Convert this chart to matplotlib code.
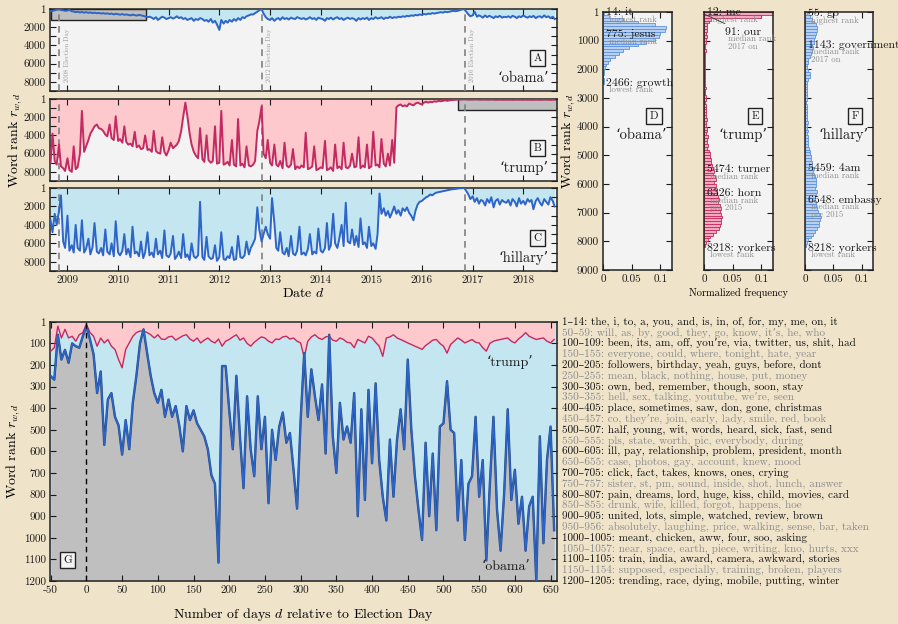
import numpy as np
import pandas as pd
import matplotlib.pyplot as plt
import matplotlib.dates as mdates
import matplotlib.patheffects as pe
from matplotlib.patches import Rectangle
from matplotlib.transforms import blended_transform_factory

plt.rcParams["font.family"] = ["cmr10", "DejaVu Serif"]
plt.rcParams["mathtext.fontset"] = "cm"
plt.rcParams["axes.formatter.use_mathtext"] = True

# ---------------------------
# COLOURS
# ---------------------------
PAPER = "#efe3c9"
PANEL = "#f3f3f3"
BLUE = "#2d65c8"
CRIMSON = "#c42a62"
SKY = "#c3e6f1"
PINK = "#fdc9cc"
BOX = "#bfbfbf"
INK = "#1a1a1a"
GREY_TXT = "#8c8c8c"

# ---------------------------
# DATA: daily ranks, read off as semi-monthly values (Sep 2008 - Aug 2018)
# ---------------------------
SERIES_START = "2008-09-01"
election_days = ["2008-11-04", "2012-11-06", "2016-11-08"]

obama_rank = [
    250, 200, 150, 80, 20, 120, 150, 200, 180, 90, 250, 280, 350, 300, 380, 330, 400, 350, 420, 380, 450, 400, 470, 430,
    500, 450, 520, 480, 550, 500, 600, 520, 580, 620, 560, 640, 600, 650, 700, 620, 680, 720, 650, 700, 750, 820, 900, 850,
    950, 1100, 900, 1200, 1000, 850, 950, 1100, 1000, 900, 1050, 950, 800, 1000, 900, 1100, 1000, 1200, 1100, 1000, 1300, 1100, 1200, 1000,
    1100, 1300, 1200, 1400, 1100, 1500, 1300, 1700, 2300, 1200, 1600, 1300, 1500, 1200, 1400, 1100, 1300, 1000, 1200, 900, 1000, 800, 700, 600,
    600, 450, 300, 150, 20, 500, 900, 1100, 1200, 1000, 1300, 1100, 1000, 1200, 900, 1100, 1000, 1150, 950, 1050, 1100, 900, 1000, 1100,
    1000, 1150, 1050, 900, 1100, 1000, 1200, 950, 1050, 1100, 1300, 1000, 1100, 950, 1150, 1000, 900, 1100, 1000, 1200, 1050, 950, 1100, 1000,
    1100, 1300, 1000, 1150, 1000, 1100, 950, 1200, 1000, 1100, 900, 1050, 1000, 900, 1100, 950, 1000, 850, 1000, 900, 950, 850, 900, 800,
    850, 750, 800, 700, 750, 650, 700, 600, 650, 550, 600, 500, 550, 450, 500, 450, 400, 350, 400, 300, 350, 300, 250, 200,
    250, 200, 120, 60, 20, 300, 600, 800, 700, 300, 850, 700, 800, 950, 700, 900, 750, 850, 1000, 800, 900, 750, 950, 850,
    900, 800, 950, 750, 850, 1000, 800, 900, 700, 850, 950, 800, 900, 750, 1000, 850, 800, 950, 700, 900, 800, 1000, 850, 1100,
]

trump_rank = [
    7000, 3800, 6800, 7200, 5000, 7400, 7600, 7900, 6500, 7800, 8000, 5200, 7700, 7500, 6000, 1300, 5800, 5200, 4500, 3800, 3400, 3000, 2800, 3200,
    3300, 3500, 3900, 4100, 2800, 4300, 4500, 1900, 4600, 4400, 4800, 3000, 4700, 5000, 4900, 5200, 3600, 5300, 5100, 5500, 5400, 4000, 5600, 5500,
    5800, 3500, 5700, 5900, 6000, 4200, 5800, 6200, 5600, 4800, 5400, 5200, 5000, 4600, 3500, 2000, 400, 1800, 3800, 5000, 5800, 6200, 6500, 3200,
    6600, 6900, 4000, 6700, 7000, 6800, 3000, 7100, 7000, 1300, 7200, 7100, 6900, 7300, 4500, 7200, 7400, 2200, 7300, 7100, 7500, 5200, 7300, 7400,
    7200, 6800, 3500, 2500, 800, 6000, 6500, 4500, 7000, 7300, 5000, 7200, 7400, 6800, 7600, 4800, 7300, 7500, 7200, 5500, 7700, 7400, 7600, 7300,
    7500, 3700, 7700, 7600, 7400, 5200, 7800, 7700, 7500, 7600, 4600, 7800, 7700, 7500, 7900, 5000, 7600, 7400, 7700, 4800, 7500, 7600, 7300, 6000,
    7500, 7400, 4200, 7600, 7300, 7500, 5000, 7600, 7400, 3600, 7300, 7200, 7500, 4400, 7100, 7400, 6000, 7300, 4500, 7000, 900, 700, 600, 800,
    700, 800, 500, 600, 700, 500, 400, 500, 600, 400, 300, 400, 300, 350, 250, 300, 200, 250, 200, 150, 200, 150, 120, 100,
    90, 60, 40, 20, 10, 40, 60, 50, 60, 30, 50, 60, 70, 50, 60, 80, 70, 50, 60, 90, 70, 60, 80, 70,
    70, 80, 60, 90, 70, 60, 80, 70, 90, 60, 80, 70, 90, 80, 60, 70, 90, 80, 70, 60, 80, 90, 70, 80,
]

hillary_rank = [
    3500, 4800, 2800, 4000, 2500, 800, 5800, 6500, 3000, 6800, 6200, 7000, 4000, 6500, 6800, 3500, 7000, 6600, 5500, 7200, 6400, 3800, 6900, 7100,
    6500, 7300, 4500, 6900, 7200, 6000, 7400, 3600, 7000, 7300, 6800, 5000, 7200, 6600, 7500, 4200, 7100, 6900, 7400, 5800, 7600, 7000, 4800, 7300,
    7000, 7500, 5500, 7200, 6800, 7600, 4600, 7300, 7500, 7100, 5200, 7700, 7400, 6900, 7600, 5000, 7500, 7200, 7800, 6000, 7400, 7600, 7300, 1500,
    7500, 7800, 5300, 7400, 7700, 7600, 6200, 7900, 7500, 4800, 7700, 7800, 7400, 7600, 6400, 7800, 7700, 5200, 7500, 7600, 7300, 5800, 7200, 6500,
    6000, 5500, 2100, 4500, 5800, 5000, 4200, 5000, 5500, 1100, 3800, 6500, 6800, 4800, 7000, 7200, 6500, 7400, 5200, 7100, 7300, 6800, 4200, 7200,
    7000, 7300, 6600, 5000, 7200, 6900, 7100, 4400, 6800, 7000, 6500, 3800, 6700, 6200, 2800, 6000, 6500, 5500, 4000, 6300, 1600, 5800, 6000, 4500,
    6200, 5200, 6400, 3300, 6100, 5900, 6500, 4200, 6300, 6000, 6600, 5000, 600, 2800, 2200, 3000, 2500, 3200, 2600, 2000, 2800, 2400, 3000, 2200,
    2500, 2100, 2700, 3000, 3500, 2500, 1800, 1500, 1400, 1200, 1000, 900, 700, 800, 600, 500, 450, 400, 350, 300, 250, 200, 150, 120,
    100, 60, 30, 20, 5, 300, 700, 1200, 900, 1500, 1100, 1700, 1300, 1400, 1900, 1200, 1600, 1000, 2100, 1400, 1200, 1800, 1300, 1500,
    1600, 1300, 1900, 1200, 1500, 2000, 1100, 1700, 1400, 1800, 1200, 1500, 1300, 2300, 1400, 1100, 1600, 1900, 1200, 1500, 1800, 1000, 1400, 2000,
]

# normalized frequency of ranks, bins of 100 ranks starting at 0
hist_bins = np.arange(0, 9000, 100)
obama_freq = [
    0.002, 0.01, 0.035, 0.06, 0.09, 0.11, 0.108, 0.1, 0.098, 0.09,
    0.075, 0.06, 0.045, 0.035, 0.028, 0.02, 0.012, 0.008, 0.005, 0.003,
    0.002, 0.001, 0.0, 0.001, 0.001,
]
trump_freq = [
    0.125, 0.1, 0.012, 0.008, 0.006, 0.005, 0.006, 0.004, 0.005, 0.004,
    0.003, 0.002, 0.002, 0.003, 0.002,
    0.002, 0.001, 0.002, 0.002, 0.001, 0.002, 0.001, 0.002, 0.001, 0.002,
    0.002, 0.003, 0.002, 0.002, 0.003, 0.003, 0.002, 0.004, 0.003, 0.003,
    0.004, 0.003, 0.005, 0.004, 0.004, 0.005, 0.006, 0.004, 0.007, 0.006,
    0.005, 0.007, 0.006, 0.008, 0.010, 0.011, 0.013, 0.012, 0.014, 0.016,
    0.017, 0.015, 0.019, 0.02, 0.018, 0.021, 0.019, 0.023, 0.022, 0.025,
    0.026, 0.024, 0.027, 0.029, 0.028, 0.03, 0.031, 0.029, 0.03, 0.028,
    0.026, 0.02, 0.015, 0.01, 0.007, 0.004, 0.002,
]
hillary_freq = [
    0.004, 0.008, 0.012, 0.016, 0.02, 0.022, 0.021, 0.02, 0.017, 0.015,
    0.016, 0.013, 0.014, 0.012, 0.01, 0.008, 0.006, 0.005, 0.004, 0.004,
    0.006, 0.008, 0.009, 0.006, 0.004, 0.003, 0.004, 0.003, 0.004, 0.003,
    0.003, 0.002, 0.003, 0.004, 0.003, 0.003, 0.004, 0.003, 0.005, 0.004,
    0.004, 0.005, 0.004, 0.005, 0.006, 0.006, 0.005, 0.007, 0.008, 0.009,
    0.01, 0.011, 0.012, 0.013, 0.015, 0.014, 0.016, 0.018, 0.02, 0.019,
    0.02, 0.018, 0.022, 0.02, 0.018, 0.017, 0.019, 0.02, 0.022, 0.023,
    0.026, 0.028, 0.027, 0.025, 0.024, 0.022, 0.018, 0.014, 0.01, 0.006,
    0.003, 0.001,
]

# (rank, label, note)
obama_notes = [(14, "14: it", "highest rank"), (775, "775: jesus", "median rank"),
               (2466, "2466: growth", "lowest rank")]
trump_notes = [(12, "12: me", "highest rank"), (5474, "5474: turner", "median rank"),
               (6326, "6326: horn", "median rank\npre 2015"), (8218, "8218: yorkers", "lowest rank")]
hillary_notes = [(55, "55: go", "highest rank"), (1143, "1143: government", "median rank\n2017 on"),
                 (5459, "5459: 4am", "median rank"), (6548, "6548: embassy", "median rank\npre 2015"),
                 (8218, "8218: yorkers", "lowest rank")]

# zoom: ranks every 5 days from 50 days before each election day
obama_g = [
    252, 268, 60, 175, 130, 190, 100, 113, 120, 67,
    20, 82, 150, 330, 230, 570, 360, 330, 440, 480,
    615, 455, 590, 375, 250, 100, 35, 145, 250, 330,
    375, 315, 440, 360, 440, 390, 480, 600, 390, 455,
    410, 470, 500, 530, 590, 710, 750, 1115, 205, 205,
    410, 590, 250, 530, 770, 345, 590, 715, 345, 590,
    440, 840, 500, 640, 485, 420, 560, 515, 685, 865,
    455, 145, 440, 220, 345, 455, 290, 610, 60, 530,
    700, 375, 545, 485, 560, 330, 900, 405, 825, 315,
    655, 285, 640, 810, 920, 545, 810, 545, 405, 590,
    175, 500, 715, 870, 1010, 560, 900, 610, 965, 485,
    470, 275, 500, 515, 920, 640, 1010, 750, 715, 440,
    810, 640, 1105, 750, 440, 870, 1060, 795, 405, 825,
    685, 935, 810, 1060, 855, 810, 1200, 530, 1025, 640,
    485, 965,
]
trump_g = [
    136, 120, 20, 75, 35, 75, 67, 90, 60, 50,
    12, 50, 67, 113, 75, 98, 82, 113, 128, 175,
    213, 128, 98, 67, 50, 43, 43, 50, 60, 75,
    60, 80, 82, 70, 67, 85, 75, 65, 60, 80,
    90, 75, 98, 85, 75, 90, 98, 80, 113, 90,
    82, 70, 60, 85, 75, 100, 113, 95, 82, 70,
    75, 90, 98, 80, 82, 70, 67, 80, 75, 90,
    98, 165, 90, 70, 60, 75, 82, 70, 67, 85,
    90, 75, 82, 95, 98, 120, 82, 90, 98, 67,
    75, 95, 113, 160, 75, 70, 60, 75, 82, 90,
    98, 105, 113, 120, 128, 110, 98, 85, 82, 100,
    113, 145, 105, 90, 75, 85, 98, 90, 82, 95,
    98, 120, 136, 100, 90, 85, 82, 78, 75, 90,
    98, 80, 67, 50, 67, 75, 82, 78, 75, 90,
    98, 82,
]
G_FIRST_DAY = -50
G_STEP = 5
G_RANK_MAX = 1200

word_spans = ["1–14", "50–59", "100–109", "150–155", "200–205", "250–255", "300–305",
              "350–355", "400–405", "450–457", "500–507", "550–555", "600–605", "650–655",
              "700–705", "750–757", "800–807", "850–855", "900–905", "950–956",
              "1000–1005", "1050–1057", "1100–1105", "1150–1154", "1200–1205"]
word_lists = [
    "the, i, to, a, you, and, is, in, of, for, my, me, on, it",
    "will, as, by, good, they, go, know, it’s, he, who",
    "been, its, am, off, you’re, via, twitter, us, shit, had",
    "everyone, could, where, tonight, hate, year",
    "followers, birthday, yeah, guys, before, dont",
    "mean, black, nothing, house, put, money",
    "own, bed, remember, though, soon, stay",
    "hell, sex, talking, youtube, we’re, seen",
    "place, sometimes, saw, don, gone, christmas",
    "co, they’re, join, early, lady, smile, red, book",
    "half, young, wit, words, heard, sick, fast, send",
    "pls, state, worth, pic, everybody, during",
    "ill, pay, relationship, problem, president, month",
    "case, photos, gay, account, knew, mood",
    "click, fact, takes, knows, ones, crying",
    "sister, st, pm, sound, inside, shot, lunch, answer",
    "pain, dreams, lord, huge, kiss, child, movies, card",
    "drunk, wife, killed, forgot, happens, hoe",
    "united, lots, simple, watched, review, brown",
    "absolutely, laughing, price, walking, sense, bar, taken",
    "meant, chicken, aww, four, soo, asking",
    "near, space, earth, piece, writing, kno, hurts, xxx",
    "train, india, award, camera, awkward, stories",
    "supposed, especially, training, broken, players",
    "trending, race, dying, mobile, putting, winter",
]

# ---------------------------
# FIGURE / LAYOUT (pixel boxes)
# ---------------------------
W, H = 898, 624
fig = plt.figure(figsize=(W / 100, H / 100), dpi=100, facecolor=PAPER)


def px_axes(left, top, right, bottom):
    return fig.add_axes([left / W, 1 - bottom / H, (right - left) / W, (bottom - top) / H])


def style_axes(ax):
    ax.tick_params(direction="in", top=True, right=True, length=4, width=0.8,
                   labelsize=8, colors=INK, pad=3)
    for sp in ax.spines.values():
        sp.set_color("#222222")
        sp.set_linewidth(1.1)


def tag_box(ax, x, y, s):
    ax.text(x, y, s, transform=ax.transAxes, ha="center", va="center", fontsize=8, color=INK,
            bbox=dict(boxstyle="square,pad=0.3", fc=PANEL, ec="#222222", lw=1.0), zorder=6)


ax_a = px_axes(50, 9, 557, 91)
ax_b = px_axes(50, 99, 557, 181)
ax_c = px_axes(50, 188, 557, 271)
ax_d = px_axes(603, 12, 672, 270)
ax_e = px_axes(704, 12, 773, 270)
ax_f = px_axes(805, 12, 873, 270)
ax_g = px_axes(50, 322, 557, 581)

# ---------------------------
# TIME SERIES PANELS A-C
# ---------------------------
g_days = G_FIRST_DAY + G_STEP * np.arange(len(obama_g))
g_xlim = (-51, 659)
box_days = {"obama": (-58, 625), "trump": (-55, 700)}
year_ticks = pd.to_datetime([f"{y}-01-01" for y in range(2009, 2019)])
rank_ticks = list(range(0, 9001, 1000))
rank_ticks[0] = 1
rank_labels = [str(t) if i % 2 == 0 else "" for i, t in enumerate(rank_ticks)]

panels = [
    (ax_a, obama_rank, BLUE, SKY, "A", "‘obama’"),
    (ax_b, trump_rank, CRIMSON, PINK, "B", "‘trump’"),
    (ax_c, hillary_rank, BLUE, SKY, "C", "‘hillary’"),
]
for ax, values, line_c, fill_c, tag, word in panels:
    dates = pd.date_range(SERIES_START, periods=len(values), freq="SMS")
    ax.set_facecolor(PANEL)
    ax.fill_between(dates, 1, values, color=fill_c, lw=0, zorder=1)
    ax.plot(dates, values, color=line_c, lw=1.4, zorder=4)
    for d in election_days:
        ax.axvline(pd.Timestamp(d), color="#808080", lw=1.2, ls=(0, (4, 3)), zorder=3)
    ax.set_xlim(pd.Timestamp("2008-08-28"), pd.Timestamp("2018-09-01"))
    ax.set_ylim(9000, 1)
    ax.set_yticks(rank_ticks)
    ax.set_yticklabels(rank_labels)
    ax.set_xticks(year_ticks)
    ax.set_xticklabels([str(t.year) for t in year_ticks] if ax is ax_c else [])
    style_axes(ax)
    tag_box(ax, 0.962, 0.40, tag)
    ax.text(0.984, 0.16, word, transform=ax.transAxes, ha="right", va="center",
            fontsize=10.5, color=INK)

# grey boxes marking the windows shown in panel G
for ax, election, key in ((ax_a, election_days[0], "obama"), (ax_b, election_days[2], "trump")):
    d0, d1 = box_days[key]
    t0 = mdates.date2num(pd.Timestamp(election) + pd.Timedelta(days=d0))
    t1 = mdates.date2num(pd.Timestamp(election) + pd.Timedelta(days=d1))
    ax.add_patch(Rectangle((t0, 1), t1 - t0, G_RANK_MAX - 1, fc=BOX, ec="#222222",
                           lw=1.0, zorder=2))

for d in election_days:
    ax_a.annotate(f"{d[:4]} Election Day", xy=(pd.Timestamp(d), 8050), xytext=(3, 0),
                  textcoords="offset points", rotation=90, fontsize=4.8,
                  color="#9a9a9a", ha="left", va="bottom")

ax_b.set_ylabel("Word rank $r_{w,d}$", fontsize=10, labelpad=0)
ax_c.set_xlabel("Date $d$", fontsize=10, labelpad=2)

# ---------------------------
# HISTOGRAM PANELS D-F
# ---------------------------
hist_panels = [
    (ax_d, obama_freq, "#b7d0f2", "#5f93dc", "D", "‘obama’", obama_notes),
    (ax_e, trump_freq, "#f3a9bf", "#c8285a", "E", "‘trump’", trump_notes),
    (ax_f, hillary_freq, "#b7d0f2", "#5f93dc", "F", "‘hillary’", hillary_notes),
]
for ax, freqs, fc, ec, tag, word, notes in hist_panels:
    ax.set_facecolor(PANEL)
    ax.barh(hist_bins[:len(freqs)], freqs, height=100, align="edge",
            color=fc, edgecolor=ec, lw=0.6, zorder=2)
    ax.set_xlim(0, 0.12)
    ax.set_ylim(9000, 1)
    ax.set_xticks([0, 0.05, 0.1])
    ax.set_xticklabels(["0", "0.05", "0.1"])
    ax.set_yticks(rank_ticks)
    ax.set_yticklabels([str(t) for t in rank_ticks] if ax is ax_d else [])
    style_axes(ax)
    tag_box(ax, 0.74, 0.597, tag)
    ax.text(0.56, 0.523, word, transform=ax.transAxes, ha="center", va="center",
            fontsize=10.5, color=INK)
    for rank, label, note in notes:
        ax.text(0.005, rank, label, ha="left", va="center", fontsize=8.5, color=INK,
                zorder=5, clip_on=False)
        ax.annotate(note, xy=(0.0105, rank), xytext=(0, -2.4), textcoords="offset points",
                    ha="left", va="top", fontsize=6.3, color=GREY_TXT,
                    linespacing=0.8, zorder=5)

# 'our' label sits away from its rank, with a leader line
ax_e.annotate("91: our", xy=(0.002, 91), xytext=(0.036, 690), ha="left", va="center",
              fontsize=8.5, color=INK, zorder=5,
              arrowprops=dict(arrowstyle="-", color="#333333", lw=0.6, shrinkA=1, shrinkB=0))
ax_e.annotate("median rank\n2017 on", xy=(0.0415, 690), xytext=(0, -2.4),
              textcoords="offset points", ha="left", va="top", fontsize=6.3,
              color=GREY_TXT, linespacing=0.8, zorder=5)

ax_d.set_ylabel("Word rank $r_{w,d}$", fontsize=10, labelpad=0)
ax_e.set_xlabel("Normalized frequency", fontsize=7.5, labelpad=3)

# ---------------------------
# PANEL G: days around election day
# ---------------------------
ax_g.set_facecolor(SKY)
ax_g.fill_between(g_days, 1, trump_g, color=PINK, lw=0, zorder=1)
ax_g.fill_between(g_days, obama_g, G_RANK_MAX, color=BOX, lw=0, zorder=1)
ax_g.plot(g_days, trump_g, color=CRIMSON, lw=1.0, zorder=3)
ax_g.plot(g_days, obama_g, color=BLUE, lw=1.1, zorder=4,
          path_effects=[pe.Stroke(linewidth=1.7, foreground="#24477f"), pe.Normal()])
ax_g.axvline(0, color="black", lw=1.0, ls=(0, (4, 3)), zorder=5)
ax_g.set_xlim(*g_xlim)
ax_g.set_ylim(G_RANK_MAX, 1)
g_xticks = list(range(-50, 651, 50))
ax_g.set_xticks(g_xticks)
ax_g.set_xticklabels([str(t) for t in g_xticks])
g_yticks = [1] + list(range(100, G_RANK_MAX + 1, 100))
ax_g.set_yticks(g_yticks)
ax_g.set_yticklabels([str(t) for t in g_yticks])
style_axes(ax_g)
tag_box(ax_g, 0.035, 0.081, "G")
ax_g.text(0.907, 0.847, "‘trump’", transform=ax_g.transAxes, ha="center", va="center",
          fontsize=10, color=INK, zorder=6)
ax_g.text(0.9, 0.055, "‘obama’", transform=ax_g.transAxes, ha="center", va="center",
          fontsize=10, color=INK, zorder=6)
ax_g.set_ylabel("Word rank $r_{w,d}$", fontsize=10, labelpad=1)
ax_g.set_xlabel("Number of days $d$ relative to Election Day", fontsize=10, labelpad=8)

# word list aligned with the rank axis of G
trans = blended_transform_factory(ax_g.transAxes, ax_g.transData)
for i, (span, words) in enumerate(zip(word_spans, word_lists)):
    y = int(span.split("–")[0])
    col = "#111111" if i % 2 == 0 else GREY_TXT
    ax_g.text(1.01, y, f"{span}: {words}", transform=trans, ha="left", va="center",
              fontsize=8.0, color=col)

fig.savefig("out.png", dpi=100, facecolor=PAPER)
plt.close(fig)
